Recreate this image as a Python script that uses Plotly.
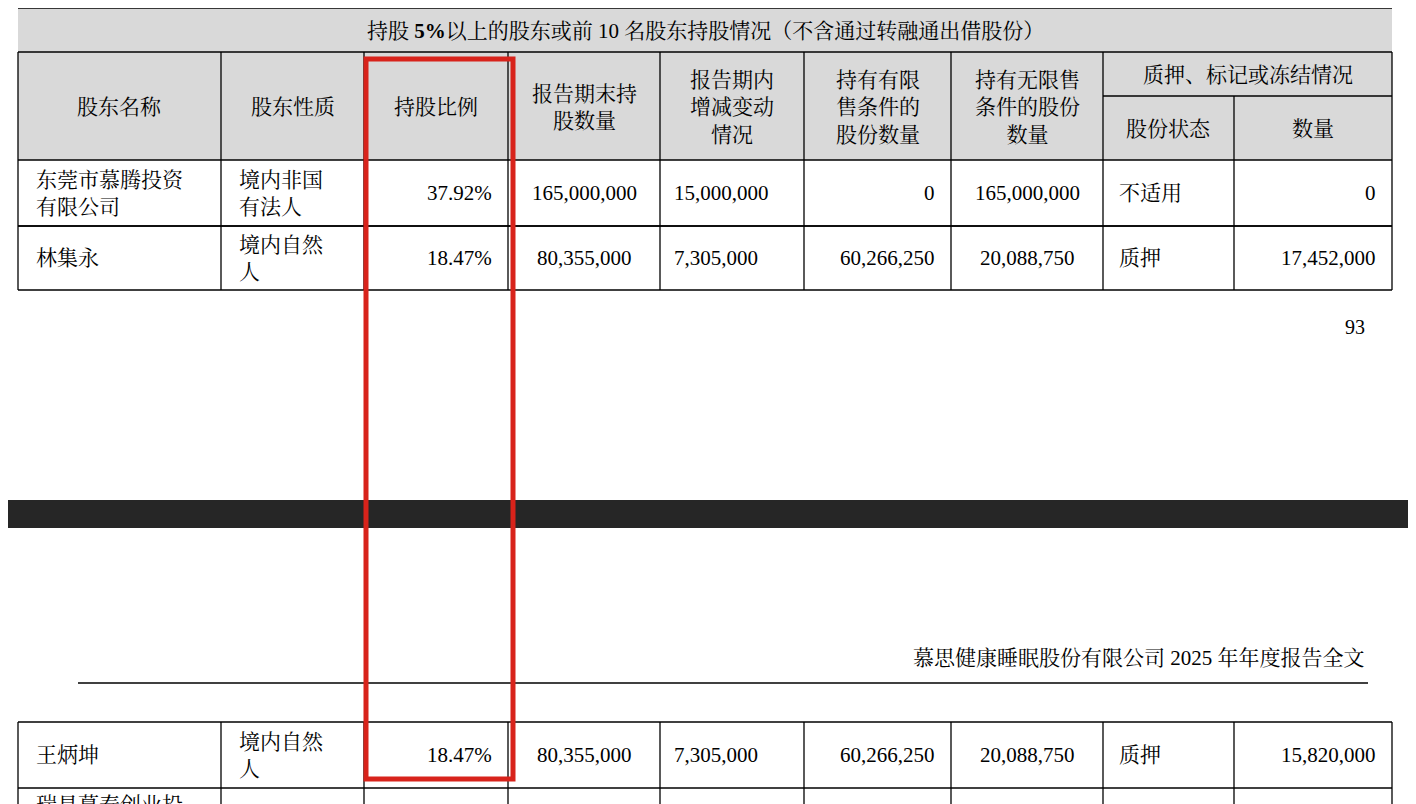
import plotly.graph_objects as go

# table content
title_text = "持股 <b>5%</b>以上的股东或前 10 名股东持股情况（不含通过转融通出借股份）"
headers = ["股东名称", "股东性质", "持股比例", "报告期末持<br>股数量", "报告期内<br>增减变动<br>情况",
           "持有有限<br>售条件的<br>股份数量", "持有无限售<br>条件的股份<br>数量"]
pledge_header = "质押、标记或冻结情况"
pledge_sub = ["股份状态", "数量"]

names = ["东莞市慕腾投资<br>有限公司", "林集永", "王炳坤"]
natures = ["境内非国<br>有法人", "境内自然<br>人", "境内自然<br>人"]
ratios = ["37.92%", "18.47%", "18.47%"]
holdings = ["165,000,000", "80,355,000", "80,355,000"]
changes = ["15,000,000", "7,305,000", "7,305,000"]
restricted = ["0", "60,266,250", "60,266,250"]
unrestricted = ["165,000,000", "20,088,750", "20,088,750"]
status = ["不适用", "质押", "质押"]
pledged = ["0", "17,452,000", "15,820,000"]
next_name = "瑞昌慕泰创业投"

page_no = "93"
running_head = "慕思健康睡眠股份有限公司 2025 年年度报告全文"

# layout geometry (pixels)
cols = [18, 221, 364, 508, 660, 804, 951, 1103, 1234, 1392]
row_bounds = [(160, 226), (226, 290), (722, 788)]
FONT = "Liberation Serif, Noto Serif CJK SC, Noto Sans CJK SC"
OFF = 8  # page body margin

fig = go.Figure()
shapes = []
ann = []

def line(x0, y0, x1, y1, w=1.3, c="black"):
    shapes.append(dict(type="line", x0=x0, y0=y0, x1=x1, y1=y1,
                       line=dict(color=c, width=w), layer="above"))

def text(x, y, s, anchor="center", size=21):
    ann.append(dict(x=x, y=y, text=s, showarrow=False, xanchor=anchor, yanchor="middle",
                    align=anchor if anchor != "center" else "center",
                    font=dict(family=FONT, size=size, color="black")))

# gray header backgrounds
shapes.append(dict(type="rect", x0=cols[0], y0=-10, x1=cols[-1], y1=160,
                   fillcolor="#d9d9d9", line=dict(width=0), layer="below"))
# top partial row
line(cols[0], 8, cols[-1], 8)
for x in cols:
    line(x, -10, x, 8)
line(cols[0], 52, cols[-1], 52)
text((cols[0] + cols[-1]) / 2, 31, title_text)
# header row
line(cols[7], 96, cols[-1], 96)
for i, h in enumerate(headers):
    text((cols[i] + cols[i + 1]) / 2, 107, h)
text((cols[7] + cols[9]) / 2, 75, pledge_header)
text((cols[7] + cols[8]) / 2, 129, pledge_sub[0])
text((cols[8] + cols[9]) / 2, 129, pledge_sub[1])
for x in cols:
    if x == cols[8]:
        line(x, 96, x, 160)
    else:
        line(x, 52, x, 160)

# data rows
for i, (y0, y1) in enumerate(row_bounds):
    yc = (y0 + y1) / 2
    line(cols[0], y0, cols[-1], y0)
    line(cols[0], y1, cols[-1], y1)
    for x in cols:
        line(x, y0, x, y1)
    text(cols[0] + 16, yc, names[i], "left")
    text(cols[1] + 16, yc, natures[i], "left")
    text(cols[3] - 14, yc, ratios[i], "right")
    text((cols[3] + cols[4]) / 2, yc, holdings[i])
    text(cols[4] + 12, yc, changes[i], "left")
    text(cols[6] - 14, yc, restricted[i], "right")
    text((cols[6] + cols[7]) / 2, yc, unrestricted[i])
    text(cols[7] + 14, yc, status[i], "left")
    text(cols[9] - 14, yc, pledged[i], "right")

# partially visible next row
for x in cols:
    line(x, 788, x, 820)
text(cols[0] + 16, 805, next_name, "left")

# page footer / header
text(1367, 327, page_no, "right", 20)
shapes.append(dict(type="rect", x0=-20, y0=500, x1=1440, y1=528,
                   fillcolor="#262626", line=dict(width=0), layer="below"))
text(1367, 658, running_head, "right", 21)
line(78, 683, 1368, 683, w=1.5)

# red highlight box
shapes.append(dict(type="rect", x0=366, y0=59, x1=513, y1=779,
                   line=dict(color="#d8231b", width=5), layer="above"))

fig.update_layout(
    width=1416, height=804, margin=dict(l=0, r=0, t=0, b=0),
    plot_bgcolor="white", paper_bgcolor="white",
    xaxis=dict(range=[OFF, 1416 + OFF], visible=False, fixedrange=True),
    yaxis=dict(range=[804 + OFF, OFF], visible=False, fixedrange=True),
    shapes=shapes, annotations=ann, showlegend=False,
)
fig.write_html("out.html")
